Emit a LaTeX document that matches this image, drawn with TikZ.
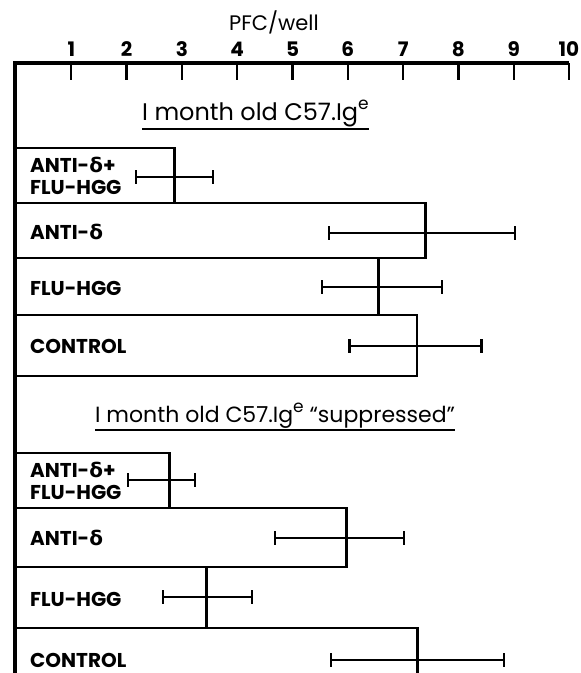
\documentclass[tikz,border=0pt]{standalone}
\usepackage{fontspec}
\setmainfont{Poppins}
\newfontfamily\grk{DejaVu Sans}
\newcommand\dlt{{\grk δ}}
\newcommand\supe{\raisebox{0.42em}{\fontsize{17}{17}\selectfont e}}
\begin{document}
\begin{tikzpicture}[x=1pt,y=-1pt,
  axis/.style={line width=3.2pt},
  barline/.style={line width=2.8pt},
  errline/.style={line width=2.3pt},
  tickline/.style={line width=2.3pt},
  lab/.style={font=\fontsize{20}{22}\selectfont\bfseries, anchor=west, inner sep=0pt, align=left},
  num/.style={font=\fontsize{20}{21}\selectfont\bfseries, inner sep=0pt},
  ttl/.style={font=\fontsize{24}{26}\selectfont, anchor=base west, inner sep=0pt}]
\useasboundingbox (0,0) rectangle (581,673);
% axis
\draw[axis] (15,673) -- (15,63) -- (569,63);
\foreach \k in {1,...,10} {
  \draw[tickline] ({16+55.3*\k},63) -- ({16+55.3*\k},80);
  \node[num] (n\k) at ({16+55.3*\k},49) {\k};
}
\node[num, font=\fontsize{21}{22}\selectfont] (pfc) at (274,22) {PFC/well};
% titles
\node[ttl] (t1) at (142,120) {I month old C57.Ig\supe};
\draw[errline] ([yshift=-9pt]t1.base west) -- ([yshift=-9pt]t1.base east);
\node[ttl, font=\fontsize{22}{24}\selectfont] (t2) at (95,422) {I month old C57.Ig\supe\ “suppressed”};
\draw[errline] ([yshift=-8pt]t2.base west) -- ([yshift=-8pt]t2.base east);
% bars (closed)
\foreach \t/\b/\v in {148/203/2.87, 203/258/7.41, 258/315/6.55, 315/376/7.25,
                      453/508/2.78, 508/567/5.97, 567/628/3.45} {
  \draw[barline] (15,\t) rectangle ({16+55.3*\v},\b);
}
% last bar, open at the bottom
\draw[barline] (15,628) -- ({16+55.3*7.26},628) -- ({16+55.3*7.26},673);
% error bars
\foreach \e/\lo/\hi in {177/2.17/3.56, 233/5.66/9.02, 287/5.53/7.70, 346/6.03/8.42,
                        480/2.02/3.24, 538/4.68/7.02, 597/2.66/4.27, 660/5.70/8.82} {
  \draw[errline] ({16+55.3*\lo},\e) -- ({16+55.3*\hi},\e);
  \draw[errline] ({16+55.3*\lo},\e-7) -- ({16+55.3*\lo},\e+7);
  \draw[errline] ({16+55.3*\hi},\e-7) -- ({16+55.3*\hi},\e+7);
}
% labels
\node[lab] (a1) at (30,176) {ANTI-\dlt+\\FLU-HGG};
\node[lab] (a2) at (30,232) {ANTI-\dlt};
\node[lab] (a3) at (30,288) {FLU-HGG};
\node[lab] (a4) at (30,346) {CONTROL};
\node[lab] (b1) at (30,481) {ANTI-\dlt+\\FLU-HGG};
\node[lab] (b2) at (30,538) {ANTI-\dlt};
\node[lab] (b3) at (30,599) {FLU-HGG};
\node[lab] (b4) at (30,660) {CONTROL};
\end{tikzpicture}
\end{document}
